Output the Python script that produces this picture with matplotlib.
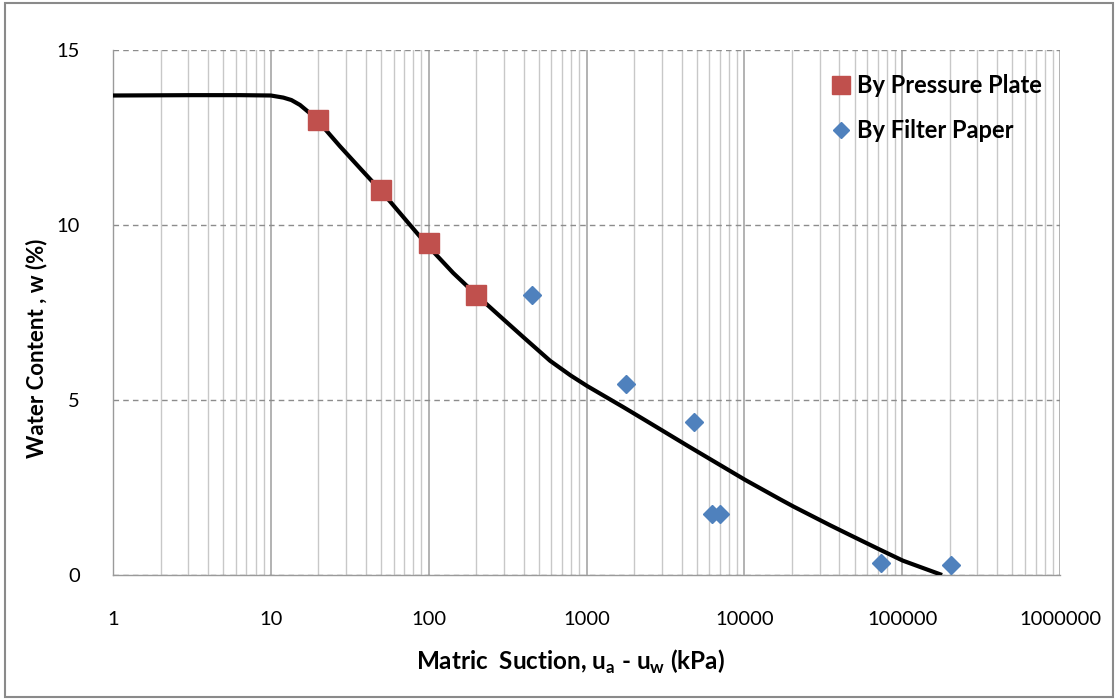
import matplotlib
matplotlib.use("Agg")
import matplotlib.pyplot as plt
from matplotlib.patches import Rectangle
from matplotlib.ticker import LogLocator, FixedLocator, NullFormatter

plt.rcParams['font.family'] = ['Lato', 'DejaVu Sans']

# Data
pp_suction = [20, 50, 100, 200]
pp_water = [13.0, 11.0, 9.5, 8.0]

fp_suction = [450, 1780, 4800, 6250, 7000, 73600, 204000]
fp_water = [8.0, 5.45, 4.37, 1.75, 1.75, 0.34, 0.28]

curve_suction = [1, 3.2, 6.4, 10, 12, 13.5, 15.3, 17.4, 20, 27.4, 38, 50.7, 73, 99, 143, 203,
                 282, 397, 588, 794, 1009, 1706, 2420, 4340, 10100, 16900, 20400,
                 35000, 46800, 72600, 101000, 179000]
curve_water = [13.7, 13.71, 13.71, 13.7, 13.64, 13.57, 13.43, 13.22, 12.96, 12.25, 11.55, 10.94,
               10.1, 9.4, 8.63, 7.98, 7.4, 6.8, 6.12, 5.70, 5.40, 4.80, 4.39, 3.70, 2.72,
               2.16, 1.96, 1.42, 1.14, 0.72, 0.41, 0.0]

x_ticks = [1, 10, 100, 1000, 10000, 100000, 1000000]
x_tick_labels = ['1', '10', '100', '1000', '10000', '100000', '1000000']
y_ticks = [0, 5, 10, 15]

W, H = 1119, 700
fig = plt.figure(figsize=(W / 100, H / 100), dpi=100)
ax = fig.add_axes([113/W, 1-575/H, (1060-113)/W, (575-50)/H])

ax.set_xscale('log')
ax.set_xlim(1, 1e6)
ax.set_ylim(0, 15)

# grid
ax.xaxis.set_major_locator(FixedLocator(x_ticks))
ax.xaxis.set_minor_locator(LogLocator(base=10, subs=range(2, 10), numticks=100))
ax.xaxis.set_minor_formatter(NullFormatter())
ax.set_xticks(x_ticks)
ax.set_xticklabels(x_tick_labels)
ax.set_yticks(y_ticks)
ax.grid(True, which='major', axis='x', color='#A6A6A6', lw=1.2, ls='-')
ax.grid(True, which='minor', axis='x', color='#C8C8C8', lw=1.0, ls='-')
ax.grid(True, which='major', axis='y', color='#8C8C8C', lw=1.0, ls=(0, (4, 3)))
ax.set_axisbelow(True)

for side in ['top', 'right']:
    ax.spines[side].set_visible(False)
for side in ['left', 'bottom']:
    ax.spines[side].set_color('#9A9A9A')
    ax.spines[side].set_linewidth(1.0)

ax.tick_params(axis='both', which='both', length=0, labelsize=14.5, colors='#000000')
ax.tick_params(axis='x', pad=26)
ax.tick_params(axis='y', pad=24)

ax.plot(curve_suction, curve_water, color='black', lw=3, zorder=3,
        solid_capstyle='butt', solid_joinstyle='round')
ax.plot(pp_suction, pp_water, ls='none', marker='s', ms=14, color='#C0504D',
        mec='#C0504D', label='By Pressure Plate', zorder=4)
ax.plot(fp_suction, fp_water, ls='none', marker='D', ms=9.5, color='#4F81BD',
        mec='#4F81BD', label='By Filter Paper', zorder=4)

leg = ax.legend(loc='upper right', bbox_to_anchor=(1.003, 0.995), frameon=False,
                prop={'weight': 'bold', 'size': 17}, handletextpad=0.15,
                labelspacing=0.95, handlelength=1.0, markerscale=0.9)

# axis titles centred on the chart area (as in the reference)
fig.text(570/W, 1-662/H,
         r'Matric  Suction, u$_\mathregular{a}$ - u$_\mathregular{w}$ (kPa)',
         fontsize=17.5, fontweight='bold', ha='center', va='center')
fig.text(37/W, 1-348/H, 'Water Content , w (%)', fontsize=16, fontweight='bold',
         rotation=90, ha='center', va='center')

# outer chart frame
fig.patches.append(Rectangle((5/W, 3/H), (1113-5)/W, (697-3)/H,
                             transform=fig.transFigure, fill=False,
                             edgecolor='#8A8A8A', lw=1.5))

fig.savefig('out.png', dpi=100)
